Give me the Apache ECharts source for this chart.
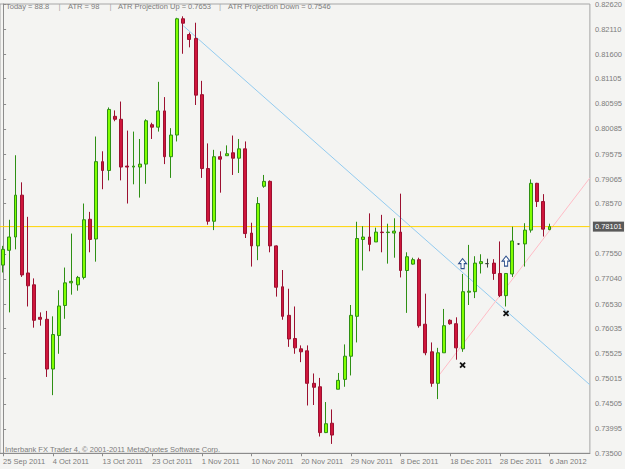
<!DOCTYPE html>
<html>
<head>
<meta charset="utf-8">
<script src="https://cdn.jsdelivr.net/npm/echarts@6/dist/echarts.min.js"></script>
<style>
html, body { margin: 0; padding: 0; background: #f4f4f2; }
#chart { width: 625px; height: 469px; }
</style>
</head>
<body>
<div id="chart"></div>
<script>
// daily bars 25 Sep 2011 .. 6 Jan 2012 (no Saturdays, no 25 Dec)
var opens = [
    0.7732, 0.7762, 0.7789, 0.7874, 0.7716, 0.7692, 0.7626, 0.7622, 0.7521, 0.7589,
    0.7650, 0.7696, 0.7692, 0.7707, 0.7825, 0.7785, 0.7942, 0.7924, 0.8034, 0.8028,
    0.7933, 0.7931, 0.7931, 0.7937, 0.8017, 0.8012, 0.8045, 0.7952, 0.7996, 0.8232,
    0.8200, 0.8192, 0.8078, 0.7928, 0.7821, 0.7952, 0.7954, 0.7960, 0.7949, 0.7968,
    0.7797, 0.7771, 0.7892, 0.7902, 0.7771, 0.7688, 0.7630, 0.7583, 0.7562, 0.7558,
    0.7492, 0.7485, 0.7392, 0.7411, 0.7480, 0.7500, 0.7547, 0.7628, 0.7784, 0.7789,
    0.7779, 0.7799, 0.7798, 0.7797, 0.7799, 0.7721, 0.7734, 0.7743, 0.7612, 0.7556,
    0.7492, 0.7554, 0.7620, 0.7613, 0.7562, 0.7677, 0.7678, 0.7735, 0.7735, 0.7736,
    0.7715, 0.7670, 0.7714, 0.7775, 0.7775, 0.7803, 0.7898, 0.7861, 0.7804
];
var closes = [
    0.7764, 0.7789, 0.7874, 0.7712, 0.7690, 0.7620, 0.7622, 0.7521, 0.7591, 0.7649,
    0.7696, 0.7699, 0.7707, 0.7824, 0.7784, 0.7942, 0.7924, 0.8048, 0.8028, 0.7931,
    0.7931, 0.7933, 0.7937, 0.8025, 0.8012, 0.8045, 0.7952, 0.7996, 0.8232, 0.8223,
    0.8190, 0.8077, 0.7928, 0.7821, 0.7952, 0.7947, 0.7958, 0.7949, 0.7968, 0.7796,
    0.7771, 0.7857, 0.7902, 0.7771, 0.7687, 0.7628, 0.7582, 0.7564, 0.7556, 0.7492,
    0.7484, 0.7392, 0.7410, 0.7387, 0.7498, 0.7547, 0.7630, 0.7786, 0.7789, 0.7774,
    0.7799, 0.7798, 0.7799, 0.7801, 0.7721, 0.7749, 0.7743, 0.7609, 0.7554, 0.7492,
    0.7554, 0.7609, 0.7613, 0.7564, 0.7678, 0.7679, 0.7736, 0.7739, 0.7735, 0.7715,
    0.7670, 0.7715, 0.7781, 0.7775, 0.7803, 0.7898, 0.7861, 0.7805, 0.78101
];
var lows = [
    0.7717, 0.7636, 0.7764, 0.7708, 0.7648, 0.7605, 0.7609, 0.7505, 0.7468, 0.7552,
    0.7623, 0.7672, 0.7680, 0.7703, 0.7758, 0.7739, 0.7886, 0.7904, 0.8024, 0.7904,
    0.7857, 0.7896, 0.7869, 0.7897, 0.7988, 0.8003, 0.7937, 0.7909, 0.7983, 0.8161,
    0.8174, 0.8057, 0.7909, 0.7814, 0.7803, 0.7879, 0.7954, 0.7915, 0.7919, 0.7787,
    0.7729, 0.7742, 0.7889, 0.7758, 0.7668, 0.7621, 0.7566, 0.7552, 0.7535, 0.7447,
    0.7448, 0.7384, 0.7391, 0.7369, 0.7480, 0.7485, 0.7508, 0.7575, 0.7721, 0.7760,
    0.7779, 0.7758, 0.7735, 0.7747, 0.7707, 0.7635, 0.7733, 0.7605, 0.7549, 0.7485,
    0.7460, 0.7554, 0.7611, 0.7540, 0.7556, 0.7651, 0.7665, 0.7715, 0.7727, 0.7702,
    0.7667, 0.7648, 0.7708, 0.7773, 0.7729, 0.7798, 0.7850, 0.7790, 0.7803
];
var highs = [
    0.7771, 0.7824, 0.7955, 0.7900, 0.7830, 0.7705, 0.7636, 0.7639, 0.7628, 0.7681,
    0.7727, 0.7796, 0.7710, 0.7857, 0.7840, 0.7993, 0.7963, 0.8052, 0.8046, 0.8064,
    0.8005, 0.8003, 0.7988, 0.8028, 0.8021, 0.8104, 0.8073, 0.8010, 0.8234, 0.8237,
    0.8204, 0.8224, 0.8106, 0.7979, 0.7966, 0.7963, 0.7975, 0.7995, 0.7988, 0.7983,
    0.7818, 0.7870, 0.7915, 0.7904, 0.7772, 0.7722, 0.7684, 0.7648, 0.7569, 0.7569,
    0.7512, 0.7503, 0.7454, 0.7439, 0.7513, 0.7571, 0.7651, 0.7820, 0.7811, 0.7837,
    0.7808, 0.7834, 0.7816, 0.7827, 0.7877, 0.7758, 0.7747, 0.7747, 0.7674, 0.7575,
    0.7564, 0.7643, 0.7622, 0.7626, 0.7714, 0.7773, 0.7750, 0.7754, 0.7745, 0.7744,
    0.7780, 0.7715, 0.7810, 0.7776, 0.7817, 0.7906, 0.7899, 0.7876, 0.7816
];

var yTickLabels = ['0.82620', '0.82110', '0.81600', '0.81105', '0.80595', '0.80085',
    '0.79575', '0.79065', '0.78570', '0.77550', '0.77040', '0.76530', '0.76035',
    '0.75525', '0.75015', '0.74505', '0.73995', '0.73500'];

var infoTexts = ['Today = 88.8', 'ATR = 98', 'ATR Projection Up = 0.7653', 'ATR Projection Down = 0.7546'];
var copyright = 'Interbank FX Trader 4, \u00a9 2001-2011 MetaQuotes Software Corp.';

// trend lines drawn on the chart: [bar index, price]
var blueTrend = [[29, 0.8218], [94.5, 0.7489]];
var pinkTrend = [[70, 0.7505], [94.5, 0.7909]];
// signal marks: [bar index, price]
var upArrows = [[74, 0.7735], [81, 0.7740]];
var crosses = [[74, 0.7529], [81, 0.7634]];

// dates, MT4 style "25 Sep 2011"
var months = ['Jan', 'Feb', 'Mar', 'Apr', 'May', 'Jun', 'Jul', 'Aug', 'Sep', 'Oct', 'Nov', 'Dec'];
var dates = [];
var d = new Date(2011, 8, 25);
while (dates.length < opens.length) {
    var skip = d.getDay() === 6 || (d.getMonth() === 11 && d.getDate() === 25);
    if (!skip) dates.push(d.getDate() + ' ' + months[d.getMonth()] + ' ' + d.getFullYear());
    d.setDate(d.getDate() + 1);
}
var categories = dates.slice();
for (var k = 0; k < 6; k++) categories.push('');   // chart shift on the right

var font = '"Liberation Sans", Arial, sans-serif';
var textGray = '#7c7c7c';

var candles = opens.map(function (o, i) {
    var item = { value: [o, closes[i], lows[i], highs[i]] };
    if (o === closes[i]) {
        item.itemStyle = { color: '#3c3c3c', color0: '#3c3c3c', borderColor: '#3c3c3c', borderColor0: '#3c3c3c', borderColorDoji: '#3c3c3c' };
    }
    return item;
});

var lastPrice = closes[closes.length - 1];
var yTickValues = yTickLabels.map(Number);

var graphics = [];
var infoX = [6, 68, 118, 228];
var sepX = [58.5, 109.5, 219];
infoTexts.forEach(function (t, i) {
    graphics.push({ type: 'text', x: infoX[i], y: 6,
        style: { text: t, fill: textGray, font: '7.5px ' + font, textVerticalAlign: 'middle', verticalAlign: 'middle' } });
});
sepX.forEach(function (x) {
    graphics.push({ type: 'text', x: x, y: 6,
        style: { text: '|', fill: '#a8a8a8', font: '8px ' + font, textVerticalAlign: 'middle', verticalAlign: 'middle' } });
});
graphics.push({ type: 'text', x: 5, y: 449,
    style: { text: copyright, fill: textGray, font: '7.5px ' + font, textVerticalAlign: 'middle', verticalAlign: 'middle' } });

var chart = echarts.init(document.getElementById('chart'), null, { renderer: 'svg' });

chart.setOption({
    backgroundColor: '#f4f4f2',
    animation: false,
    textStyle: { fontFamily: font },
    grid: {
        left: 0,
        top: 1.78,
        width: 593.75,
        height: 451.5,
        show: true,
        borderColor: '#a6a6a6',
        borderWidth: 1,
        backgroundColor: 'transparent'
    },
    graphic: graphics,
    xAxis: [
        {
            type: 'category',
            data: categories,
            boundaryGap: true,
            axisLine: { show: true, lineStyle: { color: '#8c8c8c' } },
            axisTick: { show: true, interval: 7, alignWithLabel: true, length: 3, lineStyle: { color: '#8c8c8c' } },
            axisLabel: { interval: 7, align: 'left', margin: 4, color: textGray, fontSize: 7.5, fontFamily: font },
            splitLine: { show: false }
        },
        {
            type: 'value',
            min: -0.5,
            max: 94.5,
            show: false
        }
    ],
    yAxis: {
        type: 'value',
        position: 'right',
        min: 0.735,
        max: 0.8262,
        axisLine: { show: true, lineStyle: { color: '#8c8c8c' } },
        axisTick: { show: true, length: 3, customValues: yTickValues, lineStyle: { color: '#8c8c8c' } },
        axisLabel: {
            customValues: yTickValues,
            margin: 5,
            color: textGray,
            fontSize: 7.5,
            fontFamily: font,
            formatter: function (v) {
                var idx = yTickValues.indexOf(v);
                return idx >= 0 ? yTickLabels[idx] : v.toFixed(5);
            }
        },
        splitLine: { show: false }
    },
    series: [
        {
            type: 'line',
            xAxisIndex: 1,
            data: blueTrend,
            showSymbol: false,
            symbol: 'none',
            silent: true,
            z: 1,
            lineStyle: { color: '#93cbef', width: 1 }
        },
        {
            type: 'line',
            xAxisIndex: 1,
            data: pinkTrend,
            showSymbol: false,
            symbol: 'none',
            silent: true,
            z: 1,
            lineStyle: { color: '#ffbcc6', width: 1 }
        },
        {
            // current price line with its price box on the axis
            type: 'line',
            xAxisIndex: 1,
            data: [[-0.5, lastPrice], [94.5, lastPrice]],
            showSymbol: false,
            symbol: 'none',
            silent: true,
            z: 2,
            color: '#ffd400',
            lineStyle: { color: '#ffd400', width: 1, opacity: 1 },
            endLabel: {
                show: true,
                distance: 3,
                formatter: lastPrice.toFixed(5),
                color: '#ffffff',
                backgroundColor: '#5a5a5a',
                padding: [1, 2, 1, 2],
                fontSize: 7.5,
                fontFamily: font
            }
        },
        {
            type: 'candlestick',
            data: candles,
            barWidth: 3.4,
            z: 3,
            itemStyle: {
                color: '#80ff00',
                color0: '#cf163b',
                borderColor: '#2e8f14',
                borderColor0: '#9c1030',
                borderColorDoji: '#3c3c3c',
                borderWidth: 1
            }
        },
        {
            type: 'scatter',
            data: upArrows,
            symbol: 'path://M5,0 L10,5 L7,5 L7,10 L3,10 L3,5 L0,5 Z',
            symbolSize: [8, 10],
            silent: true,
            z: 4,
            itemStyle: { color: '#ffffff', borderColor: '#2c4f8c', borderWidth: 1, opacity: 1 }
        },
        {
            type: 'scatter',
            data: crosses,
            symbol: 'path://M0,0 L10,10 M10,0 L0,10',
            symbolSize: 5,
            silent: true,
            z: 4,
            itemStyle: { color: 'rgba(0,0,0,0)', borderColor: '#111111', borderWidth: 1.8, opacity: 1 }
        }
    ]
});
</script>
</body>
</html>
